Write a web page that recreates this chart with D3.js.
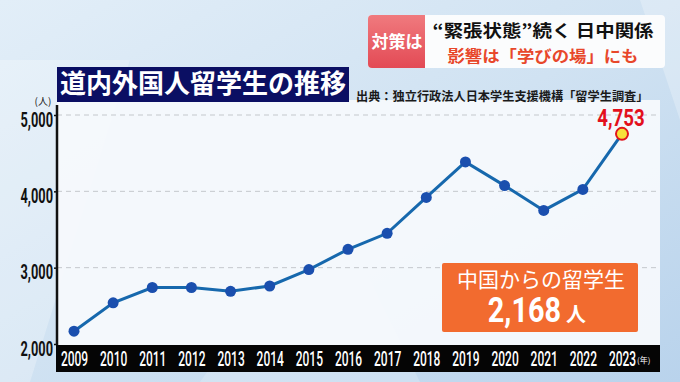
<!DOCTYPE html>
<html><head><meta charset="utf-8">
<script src="https://cdn.jsdelivr.net/npm/d3@7/dist/d3.min.js"></script>
<style>
html,body{margin:0;padding:0;background:#d3e4f3;}
svg{display:block;}
</style></head>
<body><svg id="c" width="680" height="382"></svg>
<script>
const years = [2009,2010,2011,2012,2013,2014,2015,2016,2017,2018,2019,2020,2021,2022,2023];
const students = [2168,2540,2740,2740,2690,2760,2975,3240,3450,3920,4385,4075,3750,4025,4753];
const yTicks = [2000,3000,4000,5000];
const titleText = "道内外国人留学生の推移";
const sourceText = "出典：独立行政法人日本学生支援機構「留学生調査」";
const bannerTag = "対策は";
const bannerLine1 = "“緊張状態”続く 日中関係";
const bannerLine2 = "影響は「学びの場」にも";
const calloutLine1 = "中国からの留学生";
const calloutValue = "2,168";
const lastLabel = "4,753";

const svg = d3.select("#c");
const W = 680, H = 382;
const cond = "'Roboto','DejaVu Sans',sans-serif";
const jp = "'Noto Sans CJK JP','Noto Sans',sans-serif";
function squeeze(sel, len){ sel.attr("textLength",len).attr("lengthAdjust","spacingAndGlyphs"); }

const defs = svg.append("defs");
const bg = defs.append("linearGradient").attr("id","bg").attr("x1","0").attr("y1","0").attr("x2","1").attr("y2","1");
bg.append("stop").attr("offset","0").attr("stop-color","#e2eef8");
bg.append("stop").attr("offset","0.5").attr("stop-color","#d0e2f2");
bg.append("stop").attr("offset","1").attr("stop-color","#b9d3ec");
const tag = defs.append("linearGradient").attr("id","tag").attr("x1","0").attr("y1","0").attr("x2","0").attr("y2","1");
tag.append("stop").attr("offset","0").attr("stop-color","#f07a7e");
tag.append("stop").attr("offset","1").attr("stop-color","#e34a55");

svg.append("rect").attr("width",W).attr("height",H).attr("fill","url(#bg)");
svg.append("path").attr("d","M0,60 L130,60 L30,382 L0,382 Z").attr("fill","#ffffff").attr("opacity",0.25);
svg.append("path").attr("d","M200,382 L330,200 L420,382 Z").attr("fill","#ffffff").attr("opacity",0.18);
svg.append("path").attr("d","M640,0 L680,0 L680,120 Z").attr("fill","#ffffff").attr("opacity",0.25);

const x = d3.scaleLinear().domain([2009,2023]).range([74,622]);
const y = d3.scaleLinear().domain([2000,5000]).range([344,115]);
const pl = 57, pr = 660, pt = 100, pb = 345;
svg.append("rect").attr("x",pl).attr("y",pt).attr("width",pr-pl).attr("height",pb-pt).attr("fill","#f6f9fc").attr("opacity",0.95);

svg.append("g").selectAll("line").data(yTicks.filter(d=>d>2000)).join("line")
  .attr("x1",pl).attr("x2",pr).attr("y1",d=>y(d)).attr("y2",d=>y(d))
  .attr("stroke","#c4c8cc").attr("stroke-width",1).attr("stroke-dasharray","5,4");

const ya = svg.append("g").attr("transform",`translate(${pl},0)`)
  .call(d3.axisLeft(y).tickValues(yTicks).tickFormat(d3.format(",")).tickSize(3));
ya.select(".domain").remove();
ya.selectAll("line").attr("stroke","#111").attr("stroke-width",1.5);
ya.selectAll("text").attr("x",null).attr("dy",null).attr("y",null)
  .attr("transform","translate(-4,11) scale(0.8,1.3)")
  .attr("text-anchor","end")
  .attr("font-family",cond).attr("font-weight","bold").attr("font-size",16).attr("fill","#111");
svg.append("line").attr("x1",pl).attr("x2",pl).attr("y1",105).attr("y2",pb).attr("stroke","#111").attr("stroke-width",2.5);
svg.append("text").attr("x",43).attr("y",105).attr("text-anchor","middle").attr("font-family",jp)
  .attr("font-size",10).attr("fill","#222").text("(人)");

svg.append("rect").attr("x",pl-1).attr("y",pb).attr("width",pr-pl+1).attr("height",27).attr("fill","#050505");
const xa = svg.append("g").attr("transform",`translate(0,${pb})`)
  .call(d3.axisBottom(x).tickValues(years).tickFormat(d3.format("d")).tickSize(0));
xa.select(".domain").remove();
xa.selectAll("text").attr("y",null).attr("dy",null)
  .attr("transform","translate(0,21) scale(0.75,1.32)")
  .attr("font-family",cond).attr("font-weight",500).attr("font-size",16).attr("fill","#fff");
svg.append("text").attr("x",637).attr("y",pb+18).attr("font-family",jp).attr("font-size",8)
  .attr("fill","#fff").text("(年)");

const pts = years.map((yr,i)=>({yr, v:students[i]}));
svg.append("path").datum(pts).attr("fill","none").attr("stroke","#1668ad").attr("stroke-width",3)
  .attr("d",d3.line().x(d=>x(d.yr)).y(d=>y(d.v)));
svg.append("g").selectAll("circle").data(pts.slice(0,-1)).join("circle")
  .attr("cx",d=>x(d.yr)).attr("cy",d=>y(d.v)).attr("r",5.5).attr("fill","#1a4fae");
const last = pts[pts.length-1];
svg.append("circle").attr("cx",x(last.yr)).attr("cy",y(last.v)).attr("r",6).attr("fill","#f7e23a")
  .attr("stroke","#e0161c").attr("stroke-width",2);
svg.append("text").attr("transform",`translate(${x(last.yr)-1},${y(last.v)-8}) scale(0.85,1.1)`)
  .attr("text-anchor","middle")
  .attr("font-family",cond).attr("font-weight","bold").attr("font-size",22).attr("fill","#e3101c")
  .text(lastLabel);

svg.append("rect").attr("x",57).attr("y",67).attr("width",292).attr("height",35).attr("fill","#0b0f63");
svg.append("text").attr("x",203).attr("y",93).attr("text-anchor","middle").attr("font-family",jp)
  .attr("font-weight","bold").attr("font-size",26).attr("fill","#fff").text(titleText);
svg.append("text").attr("x",356).attr("y",101).attr("font-family",jp).attr("font-weight","bold")
  .attr("font-size",12.2).attr("fill","#1a1a1a").text(sourceText);

svg.append("rect").attr("x",442).attr("y",263).attr("width",196).attr("height",69).attr("rx",2).attr("fill","#f26b2f");
svg.append("text").attr("x",541).attr("y",287).attr("text-anchor","middle").attr("font-family",jp)
  .attr("font-size",21).attr("fill","#fff").text(calloutLine1);
svg.append("text").attr("transform","translate(561,322) scale(0.9,1.1)").attr("text-anchor","end").attr("fill","#fff")
  .attr("font-family",cond).attr("font-weight","bold").attr("font-size",32).text(calloutValue);
svg.append("text").attr("x",566).attr("y",322).attr("fill","#fff")
  .attr("font-family",jp).attr("font-weight","bold").attr("font-size",20).text("人");

svg.append("rect").attr("x",368).attr("y",15).attr("width",297).attr("height",53).attr("rx",4).attr("fill","#fbfcfd");
svg.append("path").attr("d","M372,15 H425 V68 H372 Q368,68 368,64 V19 Q368,15 372,15 Z").attr("fill","url(#tag)");
svg.append("text").attr("x",397).attr("y",48).attr("text-anchor","middle").attr("font-family",jp)
  .attr("font-weight","bold").attr("font-size",17).attr("fill","#fff").text(bannerTag);
svg.append("text").attr("x",543).attr("y",37).attr("text-anchor","middle").attr("font-family",jp)
  .attr("font-weight","bold").attr("font-size",17).attr("fill","#111").call(squeeze,221).text(bannerLine1);
svg.append("text").attr("x",543).attr("y",62).attr("text-anchor","middle").attr("font-family",jp)
  .attr("font-weight","bold").attr("font-size",16).attr("fill","#e8472a").call(squeeze,191).text(bannerLine2);
</script></body></html>
